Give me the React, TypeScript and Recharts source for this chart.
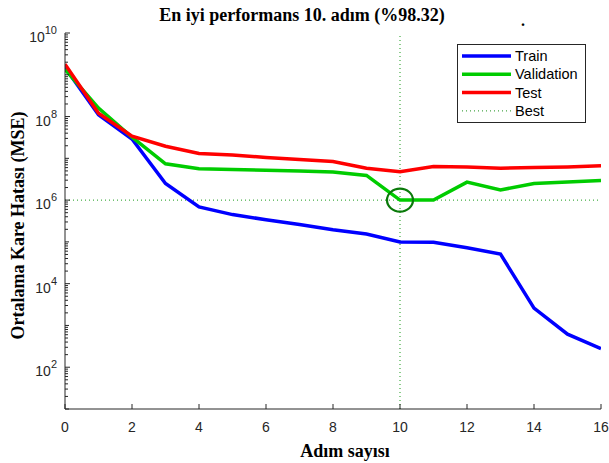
import React from "react";
import {
  LineChart,
  Line,
  XAxis,
  YAxis,
  ReferenceLine,
  ReferenceDot,
  Legend,
} from "recharts";

// ---- data ----
const steps = [0, 1, 2, 3, 4, 5, 6, 7, 8, 9, 10, 11, 12, 13, 14, 15, 16];
const trainMSE = [1.5e9, 1.1e8, 2.9e7, 2.5e6, 6.9e5, 4.5e5, 3.4e5, 2.6e5, 1.95e5, 1.55e5, 1.0e5, 9.8e4, 7.2e4, 5.1e4, 2.6e3, 6.2e2, 2.8e2];
const validationMSE = [1.35e9, 1.6e8, 3.2e7, 7.4e6, 5.6e6, 5.4e6, 5.2e6, 5.0e6, 4.7e6, 3.9e6, 1.0e6, 1.0e6, 2.7e6, 1.75e6, 2.5e6, 2.7e6, 2.95e6];
const testMSE = [1.8e9, 1.2e8, 3.4e7, 1.95e7, 1.3e7, 1.2e7, 1.05e7, 9.4e6, 8.4e6, 5.8e6, 4.8e6, 6.4e6, 6.2e6, 5.8e6, 6.0e6, 6.2e6, 6.6e6];
const bestStep = 10;
const bestValue = 1.0e6;

const xTicks = [0, 2, 4, 6, 8, 10, 12, 14, 16];
const yMajorExponents = [2, 4, 6, 8, 10];
const yDomain = [10, 1e10];

const titleText = "En iyi performans 10. adım (%98.32)";
const xLabelText = "Adım sayısı";
const yLabelText = "Ortalama Kare Hatası (MSE)";
const legendItems = [
  { name: "Train", color: "#0000ff", dotted: false },
  { name: "Validation", color: "#00cc00", dotted: false },
  { name: "Test", color: "#ff0000", dotted: false },
  { name: "Best", color: "#1a8f1a", dotted: true },
];

const data = steps.map((s, i) => ({
  step: s,
  train: trainMSE[i],
  validation: validationMSE[i],
  test: testMSE[i],
}));

// y ticks: all log ticks (major labelled, others minor)
const yTicks: number[] = [];
for (let k = 1; k <= 10; k++) {
  for (let d = 1; d <= 9; d++) {
    const v = d * Math.pow(10, k);
    if (v <= 1e10) yTicks.push(v);
  }
}
const majorSet = new Set(yMajorExponents.map((e) => Math.pow(10, e)));

const AXIS = "#262626";
const SANS = "'Liberation Sans', Arial, Helvetica, sans-serif";
const SERIF = "'Liberation Serif', 'Times New Roman', serif";

const YTick = (props: any) => {
  const { x, y, payload } = props;
  const v = payload.value;
  const isMajor = majorSet.has(v);
  const isDecade = Math.abs(Math.log10(v) - Math.round(Math.log10(v))) < 1e-9;
  const len = isMajor ? 5 : isDecade ? 4 : 3;
  const exp = Math.round(Math.log10(v));
  return (
    <g>
      <line x1={x} x2={x + len} y1={y} y2={y} stroke={AXIS} strokeWidth={1} />
      {isMajor && (
        <text x={x - 8} y={y + 9} textAnchor="end" fontFamily={SANS} fontSize={14} fill={AXIS}>
          <tspan>10</tspan>
          <tspan dy={-8} fontSize={11}>{exp}</tspan>
        </text>
      )}
    </g>
  );
};

const XTick = (props: any) => {
  const { x, y, payload } = props;
  return (
    <g>
      <line x1={x} x2={x} y1={y} y2={y - 5} stroke={AXIS} strokeWidth={1} />
      <text x={x} y={y + 23} textAnchor="middle" fontFamily={SANS} fontSize={14} fill={AXIS}>
        {payload.value}
      </text>
    </g>
  );
};

const LegendBox = () => (
  <svg width={130} height={80} style={{ display: "block" }}>
    <rect x={0.5} y={0.5} width={128} height={78} fill="#ffffff" stroke={AXIS} strokeWidth={1} />
    {legendItems.map((it, i) => {
      const cy = 12 + i * 18.3;
      return (
        <g key={it.name}>
          <line
            x1={5}
            x2={54}
            y1={cy}
            y2={cy}
            stroke={it.color}
            strokeWidth={it.dotted ? 1 : 3.5}
            strokeDasharray={it.dotted ? "1 3" : undefined}
          />
          <text x={58} y={cy + 5} fontFamily={SANS} fontSize={14.5} fill="#000">
            {it.name}
          </text>
        </g>
      );
    })}
  </svg>
);

const BestCircle = (props: any) => {
  const { cx, cy } = props;
  return <ellipse cx={cx} cy={cy} rx={13} ry={11.5} fill="none" stroke="#0a7a0a" strokeWidth={2.2} />;
};

export default function App() {
  return (
    <div style={{ position: "absolute", left: 0, top: 0, width: 609, height: 463, background: "#fff" }}>
      <LineChart
        width={609}
        height={463}
        data={data}
        margin={{ top: 33, right: 8, left: 0, bottom: 0 }}
      >
        <XAxis
          dataKey="step"
          type="number"
          domain={[0, 16]}
          ticks={xTicks}
          interval={0}
          height={54}
          tickSize={0}
          tickMargin={0}
          tickLine={false}
          axisLine={{ stroke: AXIS, strokeWidth: 1 }}
          tick={<XTick />}
          allowDataOverflow
        />
        <YAxis
          type="number"
          scale="log"
          domain={yDomain}
          ticks={yTicks}
          interval={0}
          width={65}
          tickSize={0}
          tickMargin={0}
          tickLine={false}
          axisLine={{ stroke: AXIS, strokeWidth: 1 }}
          tick={<YTick />}
          allowDataOverflow
        />
        <ReferenceLine y={bestValue} stroke="#1a9a1a" strokeWidth={1} strokeDasharray="1 3" ifOverflow="extendDomain" />
        <ReferenceLine x={bestStep} stroke="#1a9a1a" strokeWidth={1} strokeDasharray="1 3" />
        <Line type="linear" dataKey="train" stroke="#0000ff" strokeWidth={3.5} dot={false} isAnimationActive={false} />
        <Line type="linear" dataKey="validation" stroke="#00cc00" strokeWidth={3.5} dot={false} isAnimationActive={false} />
        <Line type="linear" dataKey="test" stroke="#ff0000" strokeWidth={3.5} dot={false} isAnimationActive={false} />
        <ReferenceDot x={bestStep} y={bestValue} r={12} shape={<BestCircle />} />
        <Legend
          layout="vertical"
          align="center"
          verticalAlign="middle"
          content={<LegendBox />}
          wrapperStyle={{ position: "absolute", left: 457, top: 44, width: 130, height: 80, margin: 0, padding: 0 }}
        />
      </LineChart>
      <svg
        width={609}
        height={463}
        style={{ position: "absolute", left: 0, top: 0, pointerEvents: "none" }}
      >
        <text x={302} y={21} textAnchor="middle" fontFamily={SERIF} fontWeight="bold" fontSize={18} fill="#000">
          {titleText}
        </text>
        <text x={523} y={26} textAnchor="middle" fontFamily={SERIF} fontWeight="bold" fontSize={16} fill="#000">
          .
        </text>
        <text x={345} y={457} textAnchor="middle" fontFamily={SERIF} fontWeight="bold" fontSize={18} fill="#000">
          {xLabelText}
        </text>
        <text
          x={0}
          y={0}
          transform="translate(24 225.5) rotate(-90)"
          textAnchor="middle"
          fontFamily={SERIF}
          fontWeight="bold"
          fontSize={18}
          fill="#000"
        >
          {yLabelText}
        </text>
      </svg>
    </div>
  );
}
